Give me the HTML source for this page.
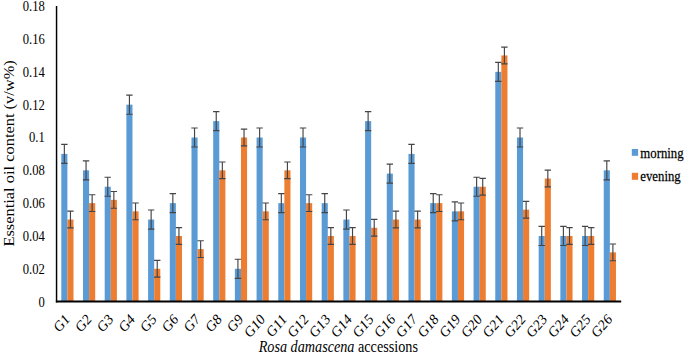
<!DOCTYPE html>
<html><head><meta charset="utf-8"><title>Essential oil content</title>
<style>html,body{margin:0;padding:0;background:#fff}body{width:685px;height:357px;overflow:hidden}</style></head>
<body>
<svg width="685" height="357" viewBox="0 0 685 357" style="display:block;font-family:'Liberation Serif',serif">
<rect width="685" height="357" fill="#fff"/>
<rect x="61.30" y="153.91" width="6.1" height="147.69" fill="#5B9BD5"/>
<rect x="67.40" y="219.55" width="6.1" height="82.05" fill="#ED7D31"/>
<path d="M64.35 144.39V163.43M61.15 144.39H67.55M61.15 163.43H67.55" stroke="#454548" stroke-width="1.15" fill="none"/>
<path d="M70.45 211.18V227.92M67.25 211.18H73.65M67.25 227.92H73.65" stroke="#454548" stroke-width="1.15" fill="none"/>
<rect x="83.00" y="170.32" width="6.1" height="131.28" fill="#5B9BD5"/>
<rect x="89.10" y="203.14" width="6.1" height="98.46" fill="#ED7D31"/>
<path d="M86.05 160.80V179.84M82.85 160.80H89.25M82.85 179.84H89.25" stroke="#454548" stroke-width="1.15" fill="none"/>
<path d="M92.15 194.77V211.51M88.95 194.77H95.35M88.95 211.51H95.35" stroke="#454548" stroke-width="1.15" fill="none"/>
<rect x="104.70" y="186.73" width="6.1" height="114.87" fill="#5B9BD5"/>
<rect x="110.80" y="199.86" width="6.1" height="101.74" fill="#ED7D31"/>
<path d="M107.75 177.21V196.25M104.55 177.21H110.95M104.55 196.25H110.95" stroke="#454548" stroke-width="1.15" fill="none"/>
<path d="M113.85 191.49V208.23M110.65 191.49H117.05M110.65 208.23H117.05" stroke="#454548" stroke-width="1.15" fill="none"/>
<rect x="126.39" y="104.68" width="6.1" height="196.92" fill="#5B9BD5"/>
<rect x="132.49" y="211.35" width="6.1" height="90.25" fill="#ED7D31"/>
<path d="M129.44 95.16V114.20M126.24 95.16H132.64M126.24 114.20H132.64" stroke="#454548" stroke-width="1.15" fill="none"/>
<path d="M135.54 202.98V219.71M132.34 202.98H138.74M132.34 219.71H138.74" stroke="#454548" stroke-width="1.15" fill="none"/>
<rect x="148.09" y="219.55" width="6.1" height="82.05" fill="#5B9BD5"/>
<rect x="154.19" y="268.78" width="6.1" height="32.82" fill="#ED7D31"/>
<path d="M151.14 210.03V229.07M147.94 210.03H154.34M147.94 229.07H154.34" stroke="#454548" stroke-width="1.15" fill="none"/>
<path d="M157.24 260.41V277.15M154.04 260.41H160.44M154.04 277.15H160.44" stroke="#454548" stroke-width="1.15" fill="none"/>
<rect x="169.79" y="203.14" width="6.1" height="98.46" fill="#5B9BD5"/>
<rect x="175.89" y="235.96" width="6.1" height="65.64" fill="#ED7D31"/>
<path d="M172.84 193.62V212.66M169.64 193.62H176.04M169.64 212.66H176.04" stroke="#454548" stroke-width="1.15" fill="none"/>
<path d="M178.94 227.59V244.33M175.74 227.59H182.14M175.74 244.33H182.14" stroke="#454548" stroke-width="1.15" fill="none"/>
<rect x="191.49" y="137.50" width="6.1" height="164.10" fill="#5B9BD5"/>
<rect x="197.59" y="249.09" width="6.1" height="52.51" fill="#ED7D31"/>
<path d="M194.54 127.98V147.02M191.34 127.98H197.74M191.34 147.02H197.74" stroke="#454548" stroke-width="1.15" fill="none"/>
<path d="M200.64 240.72V257.46M197.44 240.72H203.84M197.44 257.46H203.84" stroke="#454548" stroke-width="1.15" fill="none"/>
<rect x="213.19" y="121.09" width="6.1" height="180.51" fill="#5B9BD5"/>
<rect x="219.29" y="170.32" width="6.1" height="131.28" fill="#ED7D31"/>
<path d="M216.24 111.57V130.61M213.04 111.57H219.44M213.04 130.61H219.44" stroke="#454548" stroke-width="1.15" fill="none"/>
<path d="M222.34 161.95V178.69M219.14 161.95H225.54M219.14 178.69H225.54" stroke="#454548" stroke-width="1.15" fill="none"/>
<rect x="234.88" y="268.78" width="6.1" height="32.82" fill="#5B9BD5"/>
<rect x="240.98" y="137.50" width="6.1" height="164.10" fill="#ED7D31"/>
<path d="M237.93 259.26V278.30M234.73 259.26H241.13M234.73 278.30H241.13" stroke="#454548" stroke-width="1.15" fill="none"/>
<path d="M244.03 129.13V145.87M240.83 129.13H247.23M240.83 145.87H247.23" stroke="#454548" stroke-width="1.15" fill="none"/>
<rect x="256.58" y="137.50" width="6.1" height="164.10" fill="#5B9BD5"/>
<rect x="262.68" y="211.35" width="6.1" height="90.25" fill="#ED7D31"/>
<path d="M259.63 127.98V147.02M256.43 127.98H262.83M256.43 147.02H262.83" stroke="#454548" stroke-width="1.15" fill="none"/>
<path d="M265.73 202.98V219.71M262.53 202.98H268.93M262.53 219.71H268.93" stroke="#454548" stroke-width="1.15" fill="none"/>
<rect x="278.28" y="203.14" width="6.1" height="98.46" fill="#5B9BD5"/>
<rect x="284.38" y="170.32" width="6.1" height="131.28" fill="#ED7D31"/>
<path d="M281.33 193.62V212.66M278.13 193.62H284.53M278.13 212.66H284.53" stroke="#454548" stroke-width="1.15" fill="none"/>
<path d="M287.43 161.95V178.69M284.23 161.95H290.63M284.23 178.69H290.63" stroke="#454548" stroke-width="1.15" fill="none"/>
<rect x="299.98" y="137.50" width="6.1" height="164.10" fill="#5B9BD5"/>
<rect x="306.08" y="203.14" width="6.1" height="98.46" fill="#ED7D31"/>
<path d="M303.03 127.98V147.02M299.83 127.98H306.23M299.83 147.02H306.23" stroke="#454548" stroke-width="1.15" fill="none"/>
<path d="M309.13 194.77V211.51M305.93 194.77H312.33M305.93 211.51H312.33" stroke="#454548" stroke-width="1.15" fill="none"/>
<rect x="321.68" y="203.14" width="6.1" height="98.46" fill="#5B9BD5"/>
<rect x="327.78" y="235.96" width="6.1" height="65.64" fill="#ED7D31"/>
<path d="M324.73 193.62V212.66M321.53 193.62H327.93M321.53 212.66H327.93" stroke="#454548" stroke-width="1.15" fill="none"/>
<path d="M330.83 227.59V244.33M327.63 227.59H334.03M327.63 244.33H334.03" stroke="#454548" stroke-width="1.15" fill="none"/>
<rect x="343.37" y="219.55" width="6.1" height="82.05" fill="#5B9BD5"/>
<rect x="349.47" y="235.96" width="6.1" height="65.64" fill="#ED7D31"/>
<path d="M346.42 210.03V229.07M343.22 210.03H349.62M343.22 229.07H349.62" stroke="#454548" stroke-width="1.15" fill="none"/>
<path d="M352.52 227.59V244.33M349.32 227.59H355.72M349.32 244.33H355.72" stroke="#454548" stroke-width="1.15" fill="none"/>
<rect x="365.07" y="121.09" width="6.1" height="180.51" fill="#5B9BD5"/>
<rect x="371.17" y="227.76" width="6.1" height="73.84" fill="#ED7D31"/>
<path d="M368.12 111.57V130.61M364.92 111.57H371.32M364.92 130.61H371.32" stroke="#454548" stroke-width="1.15" fill="none"/>
<path d="M374.22 219.39V236.12M371.02 219.39H377.42M371.02 236.12H377.42" stroke="#454548" stroke-width="1.15" fill="none"/>
<rect x="386.77" y="173.60" width="6.1" height="128.00" fill="#5B9BD5"/>
<rect x="392.87" y="219.55" width="6.1" height="82.05" fill="#ED7D31"/>
<path d="M389.82 164.08V183.12M386.62 164.08H393.02M386.62 183.12H393.02" stroke="#454548" stroke-width="1.15" fill="none"/>
<path d="M395.92 211.18V227.92M392.72 211.18H399.12M392.72 227.92H399.12" stroke="#454548" stroke-width="1.15" fill="none"/>
<rect x="408.47" y="153.91" width="6.1" height="147.69" fill="#5B9BD5"/>
<rect x="414.57" y="219.55" width="6.1" height="82.05" fill="#ED7D31"/>
<path d="M411.52 144.39V163.43M408.32 144.39H414.72M408.32 163.43H414.72" stroke="#454548" stroke-width="1.15" fill="none"/>
<path d="M417.62 211.18V227.92M414.42 211.18H420.82M414.42 227.92H420.82" stroke="#454548" stroke-width="1.15" fill="none"/>
<rect x="430.17" y="203.14" width="6.1" height="98.46" fill="#5B9BD5"/>
<rect x="436.27" y="203.14" width="6.1" height="98.46" fill="#ED7D31"/>
<path d="M433.22 193.62V212.66M430.02 193.62H436.42M430.02 212.66H436.42" stroke="#454548" stroke-width="1.15" fill="none"/>
<path d="M439.32 194.77V211.51M436.12 194.77H442.52M436.12 211.51H442.52" stroke="#454548" stroke-width="1.15" fill="none"/>
<rect x="451.86" y="211.35" width="6.1" height="90.25" fill="#5B9BD5"/>
<rect x="457.96" y="211.35" width="6.1" height="90.25" fill="#ED7D31"/>
<path d="M454.91 201.83V220.86M451.71 201.83H458.11M451.71 220.86H458.11" stroke="#454548" stroke-width="1.15" fill="none"/>
<path d="M461.01 202.98V219.71M457.81 202.98H464.21M457.81 219.71H464.21" stroke="#454548" stroke-width="1.15" fill="none"/>
<rect x="473.56" y="186.73" width="6.1" height="114.87" fill="#5B9BD5"/>
<rect x="479.66" y="186.73" width="6.1" height="114.87" fill="#ED7D31"/>
<path d="M476.61 177.21V196.25M473.41 177.21H479.81M473.41 196.25H479.81" stroke="#454548" stroke-width="1.15" fill="none"/>
<path d="M482.71 178.36V195.10M479.51 178.36H485.91M479.51 195.10H485.91" stroke="#454548" stroke-width="1.15" fill="none"/>
<rect x="495.26" y="71.86" width="6.1" height="229.74" fill="#5B9BD5"/>
<rect x="501.36" y="55.45" width="6.1" height="246.15" fill="#ED7D31"/>
<path d="M498.31 62.34V81.38M495.11 62.34H501.51M495.11 81.38H501.51" stroke="#454548" stroke-width="1.15" fill="none"/>
<path d="M504.41 47.08V63.82M501.21 47.08H507.61M501.21 63.82H507.61" stroke="#454548" stroke-width="1.15" fill="none"/>
<rect x="516.96" y="137.50" width="6.1" height="164.10" fill="#5B9BD5"/>
<rect x="523.06" y="209.70" width="6.1" height="91.90" fill="#ED7D31"/>
<path d="M520.01 127.98V147.02M516.81 127.98H523.21M516.81 147.02H523.21" stroke="#454548" stroke-width="1.15" fill="none"/>
<path d="M526.11 201.33V218.07M522.91 201.33H529.31M522.91 218.07H529.31" stroke="#454548" stroke-width="1.15" fill="none"/>
<rect x="538.66" y="235.96" width="6.1" height="65.64" fill="#5B9BD5"/>
<rect x="544.76" y="178.53" width="6.1" height="123.07" fill="#ED7D31"/>
<path d="M541.71 226.44V245.48M538.51 226.44H544.91M538.51 245.48H544.91" stroke="#454548" stroke-width="1.15" fill="none"/>
<path d="M547.81 170.16V186.89M544.61 170.16H551.01M544.61 186.89H551.01" stroke="#454548" stroke-width="1.15" fill="none"/>
<rect x="560.35" y="235.96" width="6.1" height="65.64" fill="#5B9BD5"/>
<rect x="566.45" y="235.96" width="6.1" height="65.64" fill="#ED7D31"/>
<path d="M563.40 226.44V245.48M560.20 226.44H566.60M560.20 245.48H566.60" stroke="#454548" stroke-width="1.15" fill="none"/>
<path d="M569.50 227.59V244.33M566.30 227.59H572.70M566.30 244.33H572.70" stroke="#454548" stroke-width="1.15" fill="none"/>
<rect x="582.05" y="235.96" width="6.1" height="65.64" fill="#5B9BD5"/>
<rect x="588.15" y="235.96" width="6.1" height="65.64" fill="#ED7D31"/>
<path d="M585.10 226.44V245.48M581.90 226.44H588.30M581.90 245.48H588.30" stroke="#454548" stroke-width="1.15" fill="none"/>
<path d="M591.20 227.59V244.33M588.00 227.59H594.40M588.00 244.33H594.40" stroke="#454548" stroke-width="1.15" fill="none"/>
<rect x="603.75" y="170.32" width="6.1" height="131.28" fill="#5B9BD5"/>
<rect x="609.85" y="252.37" width="6.1" height="49.23" fill="#ED7D31"/>
<path d="M606.80 160.80V179.84M603.60 160.80H610.00M603.60 179.84H610.00" stroke="#454548" stroke-width="1.15" fill="none"/>
<path d="M612.90 244.00V260.74M609.70 244.00H616.10M609.70 260.74H616.10" stroke="#454548" stroke-width="1.15" fill="none"/>
<path d="M56.55 5.9V302.4" stroke="#000" stroke-width="1.45" fill="none"/>
<path d="M55.85 301.55H621.2" stroke="#000" stroke-width="1.9" fill="none"/>
<text transform="translate(44.80,306.50) scale(0.825,1)" font-size="15.3" text-anchor="end" fill="#000">0</text>
<text transform="translate(44.80,273.67) scale(0.825,1)" font-size="15.3" text-anchor="end" fill="#000">0.02</text>
<text transform="translate(44.80,240.84) scale(0.825,1)" font-size="15.3" text-anchor="end" fill="#000">0.04</text>
<text transform="translate(44.80,208.01) scale(0.825,1)" font-size="15.3" text-anchor="end" fill="#000">0.06</text>
<text transform="translate(44.80,175.18) scale(0.825,1)" font-size="15.3" text-anchor="end" fill="#000">0.08</text>
<text transform="translate(44.80,142.35) scale(0.825,1)" font-size="15.3" text-anchor="end" fill="#000">0.1</text>
<text transform="translate(44.80,109.52) scale(0.825,1)" font-size="15.3" text-anchor="end" fill="#000">0.12</text>
<text transform="translate(44.80,76.69) scale(0.825,1)" font-size="15.3" text-anchor="end" fill="#000">0.14</text>
<text transform="translate(44.80,43.86) scale(0.825,1)" font-size="15.3" text-anchor="end" fill="#000">0.16</text>
<text transform="translate(44.80,11.03) scale(0.825,1)" font-size="15.3" text-anchor="end" fill="#000">0.18</text>
<text transform="translate(70.40,320.10) scale(0.86,1) rotate(-45)" font-size="15.3" text-anchor="end" fill="#000">G1</text>
<text transform="translate(92.10,320.10) scale(0.86,1) rotate(-45)" font-size="15.3" text-anchor="end" fill="#000">G2</text>
<text transform="translate(113.80,320.10) scale(0.86,1) rotate(-45)" font-size="15.3" text-anchor="end" fill="#000">G3</text>
<text transform="translate(135.49,320.10) scale(0.86,1) rotate(-45)" font-size="15.3" text-anchor="end" fill="#000">G4</text>
<text transform="translate(157.19,320.10) scale(0.86,1) rotate(-45)" font-size="15.3" text-anchor="end" fill="#000">G5</text>
<text transform="translate(178.89,320.10) scale(0.86,1) rotate(-45)" font-size="15.3" text-anchor="end" fill="#000">G6</text>
<text transform="translate(200.59,320.10) scale(0.86,1) rotate(-45)" font-size="15.3" text-anchor="end" fill="#000">G7</text>
<text transform="translate(222.29,320.10) scale(0.86,1) rotate(-45)" font-size="15.3" text-anchor="end" fill="#000">G8</text>
<text transform="translate(243.98,320.10) scale(0.86,1) rotate(-45)" font-size="15.3" text-anchor="end" fill="#000">G9</text>
<text transform="translate(265.68,320.10) scale(0.86,1) rotate(-45)" font-size="15.3" text-anchor="end" fill="#000">G10</text>
<text transform="translate(287.38,320.10) scale(0.86,1) rotate(-45)" font-size="15.3" text-anchor="end" fill="#000">G11</text>
<text transform="translate(309.08,320.10) scale(0.86,1) rotate(-45)" font-size="15.3" text-anchor="end" fill="#000">G12</text>
<text transform="translate(330.78,320.10) scale(0.86,1) rotate(-45)" font-size="15.3" text-anchor="end" fill="#000">G13</text>
<text transform="translate(352.47,320.10) scale(0.86,1) rotate(-45)" font-size="15.3" text-anchor="end" fill="#000">G14</text>
<text transform="translate(374.17,320.10) scale(0.86,1) rotate(-45)" font-size="15.3" text-anchor="end" fill="#000">G15</text>
<text transform="translate(395.87,320.10) scale(0.86,1) rotate(-45)" font-size="15.3" text-anchor="end" fill="#000">G16</text>
<text transform="translate(417.57,320.10) scale(0.86,1) rotate(-45)" font-size="15.3" text-anchor="end" fill="#000">G17</text>
<text transform="translate(439.27,320.10) scale(0.86,1) rotate(-45)" font-size="15.3" text-anchor="end" fill="#000">G18</text>
<text transform="translate(460.96,320.10) scale(0.86,1) rotate(-45)" font-size="15.3" text-anchor="end" fill="#000">G19</text>
<text transform="translate(482.66,320.10) scale(0.86,1) rotate(-45)" font-size="15.3" text-anchor="end" fill="#000">G20</text>
<text transform="translate(504.36,320.10) scale(0.86,1) rotate(-45)" font-size="15.3" text-anchor="end" fill="#000">G21</text>
<text transform="translate(526.06,320.10) scale(0.86,1) rotate(-45)" font-size="15.3" text-anchor="end" fill="#000">G22</text>
<text transform="translate(547.76,320.10) scale(0.86,1) rotate(-45)" font-size="15.3" text-anchor="end" fill="#000">G23</text>
<text transform="translate(569.45,320.10) scale(0.86,1) rotate(-45)" font-size="15.3" text-anchor="end" fill="#000">G24</text>
<text transform="translate(591.15,320.10) scale(0.86,1) rotate(-45)" font-size="15.3" text-anchor="end" fill="#000">G25</text>
<text transform="translate(612.85,320.10) scale(0.86,1) rotate(-45)" font-size="15.3" text-anchor="end" fill="#000">G26</text>
<text transform="translate(14.25,153.40) scale(0.825,1) rotate(-90)" font-size="16.42" text-anchor="middle" fill="#000">Essential oil content (v/w%)</text>
<text transform="translate(338.30,352.30) scale(0.835,1)" font-size="17.0" text-anchor="middle" fill="#000"><tspan font-style="italic">Rosa damascena</tspan> accessions</text>
<rect x="631.8" y="149.0" width="6.3" height="6.8" fill="#5B9BD5"/>
<text transform="translate(640.30,157.60) scale(0.82,1)" font-size="15.6" text-anchor="start" fill="#000" stroke="#000" stroke-width="0.25">morning</text>
<rect x="631.8" y="172.8" width="6.3" height="7.0" fill="#ED7D31"/>
<text transform="translate(640.30,180.80) scale(0.82,1)" font-size="15.6" text-anchor="start" fill="#000" stroke="#000" stroke-width="0.25">evening</text>
</svg>
</body></html>
